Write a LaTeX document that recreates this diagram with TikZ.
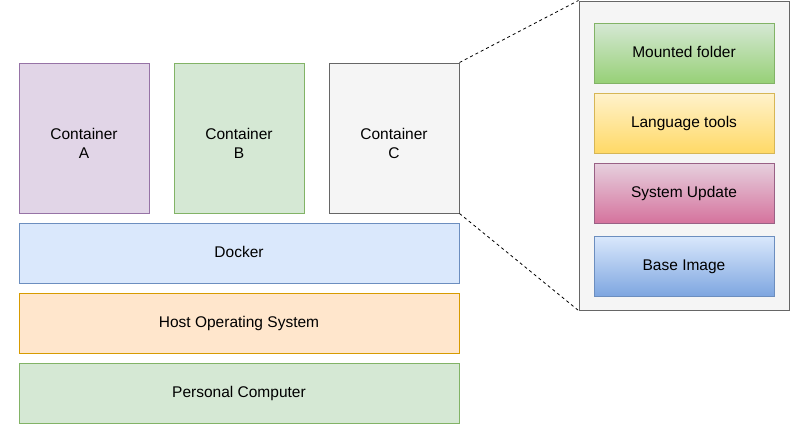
\documentclass[tikz,border=0pt]{standalone}
\usepackage{fontspec}
\setmainfont{Liberation Sans}
\usepackage{tikz}

\definecolor{purpleFill}{HTML}{E1D5E7}
\definecolor{purpleLine}{HTML}{9673A6}
\definecolor{greenFill}{HTML}{D5E8D4}
\definecolor{greenLine}{HTML}{82B366}
\definecolor{greenDeep}{HTML}{97D077}
\definecolor{grayFill}{HTML}{F5F5F5}
\definecolor{grayLine}{HTML}{666666}
\definecolor{blueFill}{HTML}{DAE8FC}
\definecolor{blueLine}{HTML}{6C8EBF}
\definecolor{blueDeep}{HTML}{7EA6E0}
\definecolor{orangeFill}{HTML}{FFE6CC}
\definecolor{orangeLine}{HTML}{D79B00}
\definecolor{yellowFill}{HTML}{FFF2CC}
\definecolor{yellowDeep}{HTML}{FFD966}
\definecolor{yellowLine}{HTML}{D6B656}
\definecolor{pinkFill}{HTML}{E6D0DE}
\definecolor{pinkDeep}{HTML}{D5739D}
\definecolor{pinkLine}{HTML}{996185}

\begin{document}
\begin{tikzpicture}[x=1pt, y=-1pt,
    box/.style={draw, line width=1pt, inner sep=0pt, align=center,
        text height=11.6pt, text depth=3pt,
        font=\fontsize{15.5}{19}\selectfont},
    cont/.style={box, minimum width=130pt, minimum height=150pt,
        text height=41pt, text depth=0pt},
    layer/.style={box, minimum width=440pt, minimum height=60pt},
    part/.style={box, minimum width=180pt, minimum height=60pt}]
                \useasboundingbox (0,0) rectangle (790,424);

                % Containers
                \node[cont, draw=purpleLine, fill=purpleFill] (contA) at (84,138) {Container\\A};
                \node[cont, draw=greenLine, fill=greenFill] (contB) at (239,138) {Container\\B};
                \node[cont, draw=grayLine, fill=grayFill] (contC) at (394,138) {Container\\C};

                % Layers
                \node[layer, draw=blueLine, fill=blueFill] (docker) at (239,253) {Docker};
                \node[layer, draw=orangeLine, fill=orangeFill] (host) at (239,323) {Host Operating System};
                \node[layer, draw=greenLine, fill=greenFill] (pc) at (239,393) {Personal Computer};

                % Zoomed view of Container C
                \node[box, draw=grayLine, fill=grayFill, minimum width=210pt, minimum height=309pt] (panel) at (684,155.5) {};
                \node[part, draw=greenLine, top color=greenFill, bottom color=greenDeep] (mounted) at (684,53) {Mounted folder};
                \node[part, draw=yellowLine, top color=yellowFill, bottom color=yellowDeep] (lang) at (684,123) {Language tools};
                \node[part, draw=pinkLine, top color=pinkFill, bottom color=pinkDeep] (update) at (684,193) {System Update};
                \node[part, draw=blueLine, top color=blueFill, bottom color=blueDeep] (base) at (684,266) {Base Image};

                % Zoom lines
                \draw[line width=0.8pt, dash pattern=on 3pt off 3pt] (contC.north east) -- (panel.north west);
                \draw[line width=0.8pt, dash pattern=on 3pt off 3pt] (contC.south east) -- (panel.south west);
\end{tikzpicture}
\end{document}
